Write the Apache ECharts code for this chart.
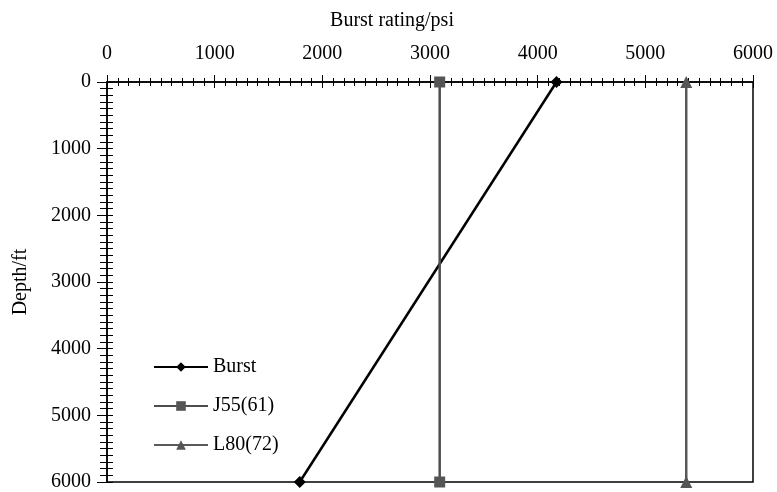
<!DOCTYPE html>
<html><head><meta charset="utf-8">
<script src="https://cdn.jsdelivr.net/npm/echarts@6/dist/echarts.min.js"></script>
<style>html,body{margin:0;padding:0;background:#fff}#c{width:777px;height:492px}</style>
</head><body><div id="c"></div>
<script>
var depths = [0, 6000];
var burst = [4175, 1790];
var j55 = [3090, 3090];
var l80 = [5380, 5380];
var seriesNames = ['Burst', 'J55(61)', 'L80(72)'];
var xTitle = 'Burst rating/psi';
var yTitle = 'Depth/ft';

function pairs(xs){ return xs.map(function(x,i){ return [x, depths[i]]; }); }
var F = '"Liberation Serif","Times New Roman",serif';
var chart = echarts.init(document.getElementById('c'), null, {renderer:'canvas'});
function fmt(v){ return String(v); }
function xa(main){
  return {type:'value', position:'top', min:0, max:6000, interval:1000, offset:0,
    axisLine:{show:main, lineStyle:{color:'#000', width:1.5}},
    axisTick:{show:true, inside:!main, length:main?7:6, lineStyle:{color:'#000', width:1}},
    minorTick:{show:true, splitNumber:10, length:4, lineStyle:{color:'#000', width:1}},
    axisLabel:{show:main, margin:18, color:'#000', fontFamily:F, fontSize:20, formatter:fmt},
    splitLine:{show:false}, minorSplitLine:{show:false}};
}
function ya(main){
  return {type:'value', position:'left', inverse:true, min:0, max:6000, interval:1000, offset:0,
    name: main? yTitle : '', nameLocation:'middle', nameGap:76, nameRotate:90,
    nameTextStyle:{color:'#000', fontFamily:F, fontSize:20},
    axisLine:{show:main, lineStyle:{color:'#000', width:1.5}},
    axisTick:{show:true, inside:!main, length:main?10:6, lineStyle:{color:'#000', width:1}},
    minorTick:{show:true, splitNumber:10, length:main?7:6, lineStyle:{color:'#000', width:1}},
    axisLabel:{show:main, margin:16, color:'#000', fontFamily:F, fontSize:20, formatter:fmt},
    splitLine:{show:false}, minorSplitLine:{show:false}};
}
chart.setOption({
  animation:false,
  backgroundColor:'#fff',
  title:{text:xTitle, left:387, top:6, textAlign:'center',
    textStyle:{color:'#000', fontFamily:F, fontSize:20, fontWeight:'normal'}},
  grid:{left:107, right:24, top:82, bottom:8, show:true, borderColor:'#000', borderWidth:1.5, backgroundColor:'transparent'},
  xAxis:[xa(true), xa(false)],
  yAxis:[ya(true), ya(false)],
  legend:{orient:'vertical', left:148, top:352, itemWidth:54, itemHeight:12, itemGap:19,
    textStyle:{color:'#000', fontFamily:F, fontSize:20},
    data:seriesNames},
  series:[
    {name:seriesNames[0], type:'line', data:pairs(burst), symbol:'diamond', symbolSize:12,
      lineStyle:{color:'#000', width:2.5}, itemStyle:{color:'#000'}},
    {name:seriesNames[1], type:'line', data:pairs(j55), symbol:'rect', symbolSize:11,
      lineStyle:{color:'#4d4d4d', width:2.5}, itemStyle:{color:'#555'}},
    {name:seriesNames[2], type:'line', data:pairs(l80), symbol:'triangle', symbolSize:12,
      lineStyle:{color:'#595959', width:2.5}, itemStyle:{color:'#555'}}
  ]
});
</script></body></html>
